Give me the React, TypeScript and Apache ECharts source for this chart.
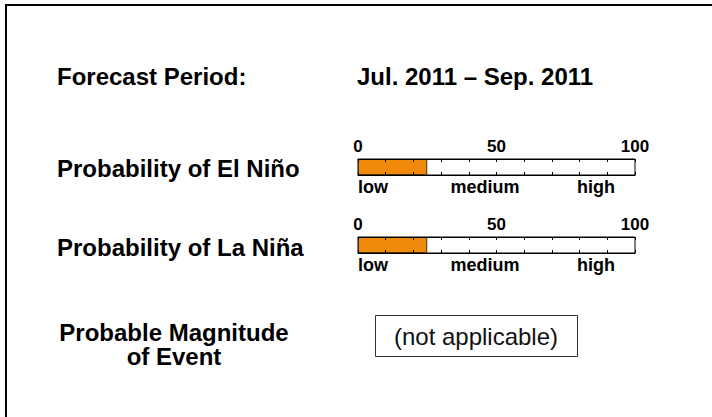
import React, { useEffect, useRef } from "react";
import * as echarts from "echarts";

const forecastPeriod = "Jul. 2011 – Sep. 2011";
const rowTitles = ["Probability of El Niño", "Probability of La Niña"];
const probabilityValues = [25, 25];
const scaleTickLabels = ["0", "50", "100"];
const levelLabels = ["low", "medium", "high"];
const magnitudeLines = ["Probable Magnitude", "of Event"];
const magnitudeText = "(not applicable)";

const FONT = "'Liberation Sans', Arial, Helvetica, sans-serif";

export default function App() {
  const ref = useRef<HTMLDivElement>(null);
  useEffect(() => {
    if (!ref.current) return;
    const chart = echarts.init(ref.current, null, { renderer: "svg" });
    const barTops = [159, 237];
    const barLeft = 358;
    const barWidth = 277;
    const barHeight = 16;

    const grids: any[] = [];
    const xAxes: any[] = [];
    const yAxes: any[] = [];
    const series: any[] = [];
    const graphics: any[] = [];

    const tickCommon = {
      type: "value",
      min: 0,
      max: 100,
      interval: 10,
      splitLine: { show: false },
      axisLine: { show: true, lineStyle: { color: "#000", width: 1 } },
      axisTick: { show: true, inside: true, length: 3, lineStyle: { color: "#000", width: 1 } },
      z: 5,
    };

    probabilityValues.forEach((v, i) => {
      grids.push({
        left: barLeft,
        top: barTops[i],
        width: barWidth,
        height: barHeight,
        show: true,
        borderColor: "#000",
        borderWidth: 1,
        backgroundColor: "#fff",
        containLabel: false,
      });
      xAxes.push({
        ...tickCommon,
        gridIndex: i,
        position: "top",
        axisLabel: {
          show: true,
          margin: 4,
          fontFamily: FONT,
          fontWeight: "bold",
          fontSize: 17,
          color: "#000",
          formatter: (val: number) => {
            const s = String(val);
            return scaleTickLabels.indexOf(s) >= 0 ? s : "";
          },
        },
      });
      xAxes.push({
        ...tickCommon,
        gridIndex: i,
        position: "bottom",
        axisLabel: { show: false },
      });
      yAxes.push({
        type: "category",
        gridIndex: i,
        data: [rowTitles[i]],
        axisLine: { show: false },
        axisTick: { show: false },
        axisLabel: { show: false },
      });
      series.push({
        type: "bar",
        xAxisIndex: i * 2,
        yAxisIndex: i,
        data: [v],
        barWidth: "100%",
        itemStyle: { color: "#EF8A0C", borderColor: "#4a3008", borderWidth: 1 },
        silent: true,
      });

      const wordY = barTops[i] + barHeight + 12;
      const levelX = [barLeft, 485, 596];
      const levelAlign = ["left", "center", "center"];
      levelLabels.forEach((t, k) => {
        graphics.push({
          type: "text",
          style: {
            text: t,
            x: levelX[k],
            y: wordY,
            align: levelAlign[k],
            verticalAlign: "middle",
            font: `bold 18px ${FONT}`,
            fill: "#000",
          },
        });
      });
    });

    const titleRows = [
      { text: "Forecast Period:", x: 57, y: 76 },
      { text: rowTitles[0], x: 57, y: 168 },
      { text: rowTitles[1], x: 57, y: 247.5 },
    ];
    titleRows.forEach((r) => {
      graphics.push({
        type: "text",
        style: {
          text: r.text,
          x: r.x,
          y: r.y,
          align: "left",
          verticalAlign: "middle",
          font: `bold 24px ${FONT}`,
          fill: "#000",
        },
      });
    });
    graphics.push({
      type: "text",
      style: {
        text: forecastPeriod,
        x: 357,
        y: 76,
        align: "left",
        verticalAlign: "middle",
        font: `bold 24px ${FONT}`,
        fill: "#000",
      },
    });
    const magY = [332, 356.5];
    magnitudeLines.forEach((t, k) => {
      graphics.push({
        type: "text",
        style: {
          text: t,
          x: 174,
          y: magY[k],
          align: "center",
          verticalAlign: "middle",
          font: `bold 24px ${FONT}`,
          fill: "#000",
        },
      });
    });
    graphics.push({
      type: "rect",
      shape: { x: 375.5, y: 315.5, width: 202, height: 41 },
      style: { fill: "#fff", stroke: "#333", lineWidth: 1 },
    });
    graphics.push({
      type: "text",
      style: {
        text: magnitudeText,
        x: 476,
        y: 336,
        align: "center",
        verticalAlign: "middle",
        font: `24px ${FONT}`,
        fill: "#111",
      },
    });
    graphics.push({
      type: "rect",
      shape: { x: 6, y: 5, width: 900, height: 600 },
      style: { fill: "none", stroke: "#000", lineWidth: 2 },
      z: -1,
    });

    chart.setOption({
      animation: false,
      backgroundColor: "#fff",
      grid: grids,
      xAxis: xAxes,
      yAxis: yAxes,
      series,
      graphic: graphics,
    });
    return () => chart.dispose();
  }, []);
  return (
    <div
      ref={ref}
      style={{ position: "fixed", left: 0, top: 0, width: 712, height: 417 }}
    />
  );
}
